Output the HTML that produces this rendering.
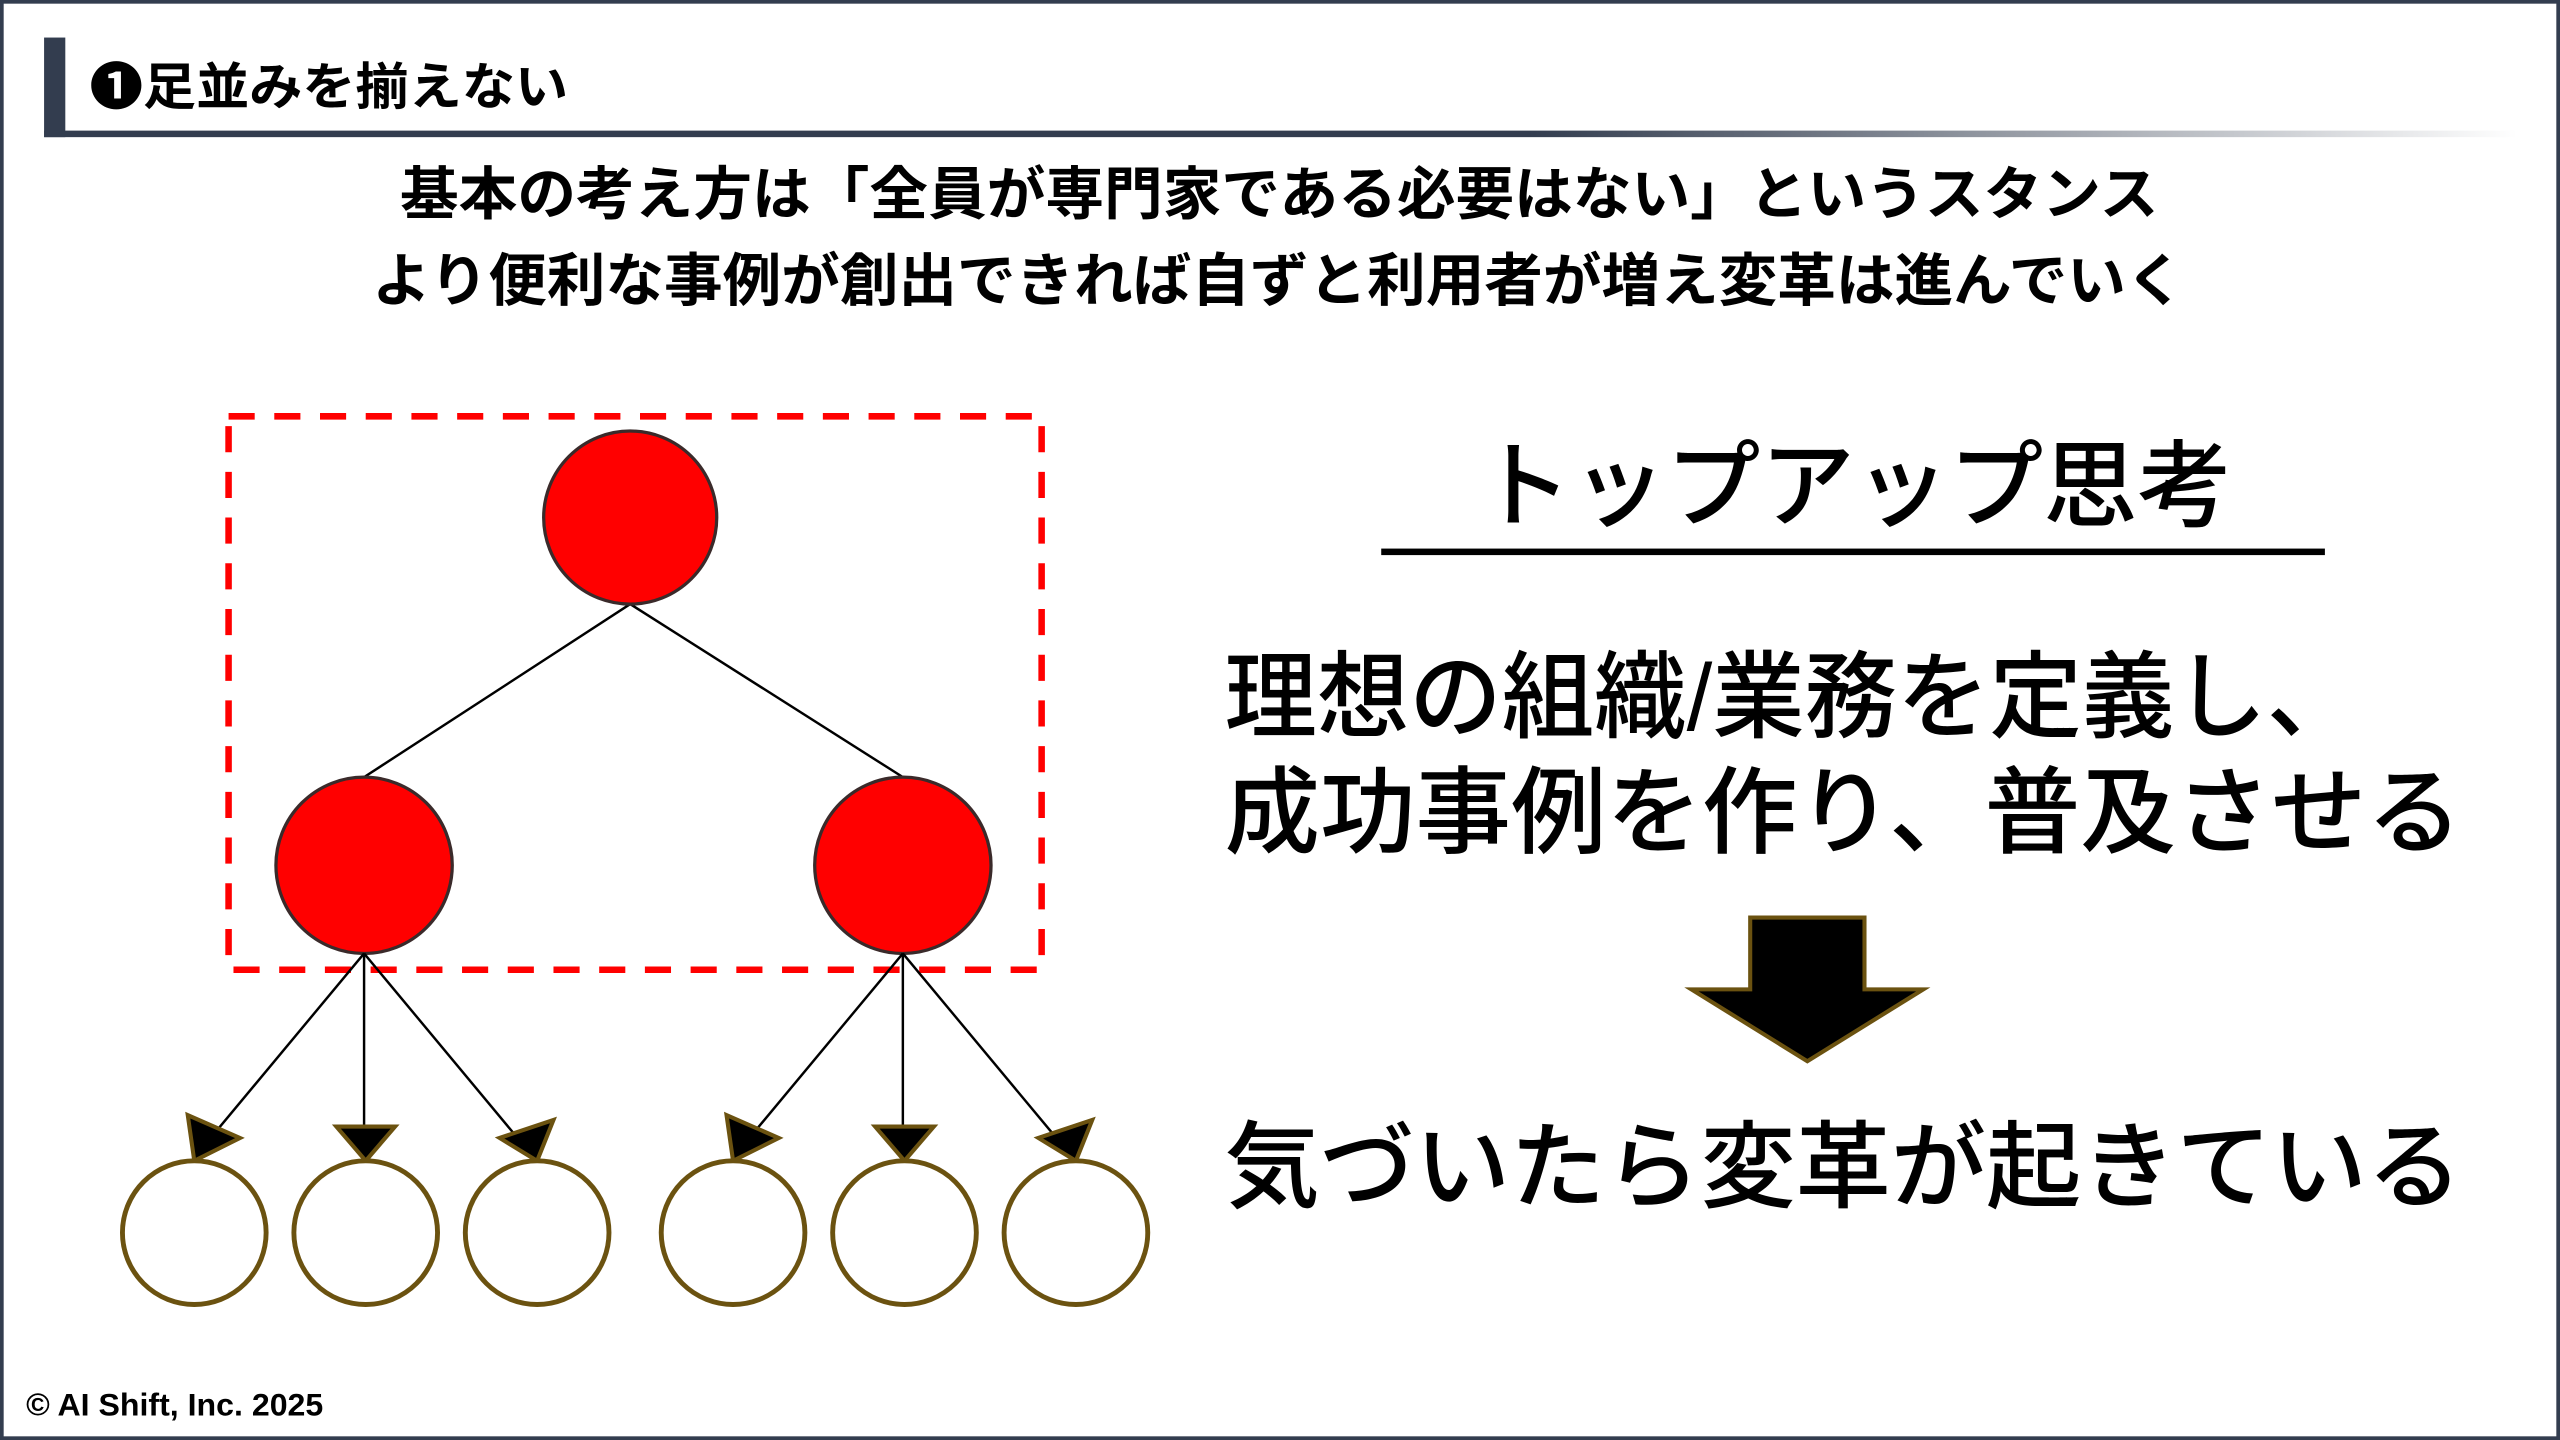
<!DOCTYPE html>
<html><head><meta charset="utf-8"><style>
html,body{margin:0;padding:0;background:#fff;}
svg{display:block;}
text{font-family:"Liberation Sans","Noto Sans CJK JP",sans-serif;}
</style></head><body>
<svg width="2560" height="1440" viewBox="0 0 1568 882" xmlns="http://www.w3.org/2000/svg">
<defs>
<linearGradient id="g" x1="0" x2="1" y1="0" y2="0">
<stop offset="0" stop-color="#333d4f"/><stop offset="0.6" stop-color="#333d4f"/><stop offset="1" stop-color="#333d4f" stop-opacity="0"/>
</linearGradient>
</defs>
<rect x="1" y="1" width="1566" height="880" fill="#fff" stroke="#333d4f" stroke-width="2.5"/>
<rect x="27" y="23" width="13" height="61" fill="#333d4f"/>
<rect x="27" y="80" width="1515" height="4" fill="url(#g)"/>
<text x="55" y="64" font-size="31" font-weight="700" textLength="293" lengthAdjust="spacingAndGlyphs">❶足並みを揃えない</text>
<text x="245" y="131" font-size="35" font-weight="700" textLength="1077" lengthAdjust="spacingAndGlyphs">基本の考え方は「全員が専門家である必要はない」というスタンス</text>
<text x="228" y="184" font-size="35" font-weight="700" textLength="1110" lengthAdjust="spacingAndGlyphs">より便利な事例が創出できれば自ずと利用者が増え変革は進んでいく</text>

<rect x="140" y="255" width="498" height="339" fill="none" stroke="#f00" stroke-width="4" stroke-dasharray="16 12"/>
<line x1="386" y1="370" x2="223" y2="476" stroke="#000" stroke-width="1.5"/>
<line x1="386" y1="370" x2="553" y2="476" stroke="#000" stroke-width="1.5"/>
<circle cx="386" cy="317" r="53" fill="#f00" stroke="#3a2a2a" stroke-width="2"/>
<circle cx="223" cy="530" r="54" fill="#f00" stroke="#3a2a2a" stroke-width="2"/>
<circle cx="553" cy="530" r="54" fill="#f00" stroke="#3a2a2a" stroke-width="2"/>

<g stroke="#000" stroke-width="1.5">
<line x1="223" y1="584" x2="129" y2="697"/><line x1="223" y1="584" x2="223" y2="692"/><line x1="223" y1="584" x2="317" y2="697"/>
<line x1="553" y1="584" x2="459" y2="697"/><line x1="553" y1="584" x2="553" y2="692"/><line x1="553" y1="584" x2="647" y2="697"/>
</g>
<g fill="#000" stroke="#6b5210" stroke-width="2.5" stroke-linejoin="miter">
<polygon points="119,711 115,683 147,697"/>
<polygon points="224,711 206,690 242,690"/>
<polygon points="329,711 339,686 306,697"/>
<polygon points="449,711 445,683 477,697"/>
<polygon points="554,711 536,690 572,690"/>
<polygon points="659,711 669,686 636,697"/>
</g>
<g fill="#fff" stroke="#6b5210" stroke-width="3">
<circle cx="119" cy="755" r="44"/><circle cx="224" cy="755" r="44"/><circle cx="329" cy="755" r="44"/>
<circle cx="449" cy="755" r="44"/><circle cx="554" cy="755" r="44"/><circle cx="659" cy="755" r="44"/>
</g>

<text x="905" y="318" font-size="58" font-weight="500" textLength="462" lengthAdjust="spacingAndGlyphs">トップアップ思考</text>
<rect x="846" y="336" width="578" height="4" fill="#000"/>
<text x="750" y="447" font-size="58" font-weight="500" textLength="695" lengthAdjust="spacingAndGlyphs">理想の組織/業務を定義し、</text>
<text x="750" y="518" font-size="58" font-weight="500" textLength="758" lengthAdjust="spacingAndGlyphs">成功事例を作り、普及させる</text>
<polygon points="1072,562 1142,562 1142,606 1178,606 1107,650 1036,606 1072,606" fill="#000" stroke="#6b5210" stroke-width="2.5"/>
<text x="750" y="735" font-size="58" font-weight="500" textLength="758" lengthAdjust="spacingAndGlyphs">気づいたら変革が起きている</text>
<text x="16" y="867" font-size="19" font-weight="700" textLength="182" lengthAdjust="spacingAndGlyphs">© AI Shift, Inc. 2025</text>
</svg>
</body></html>
